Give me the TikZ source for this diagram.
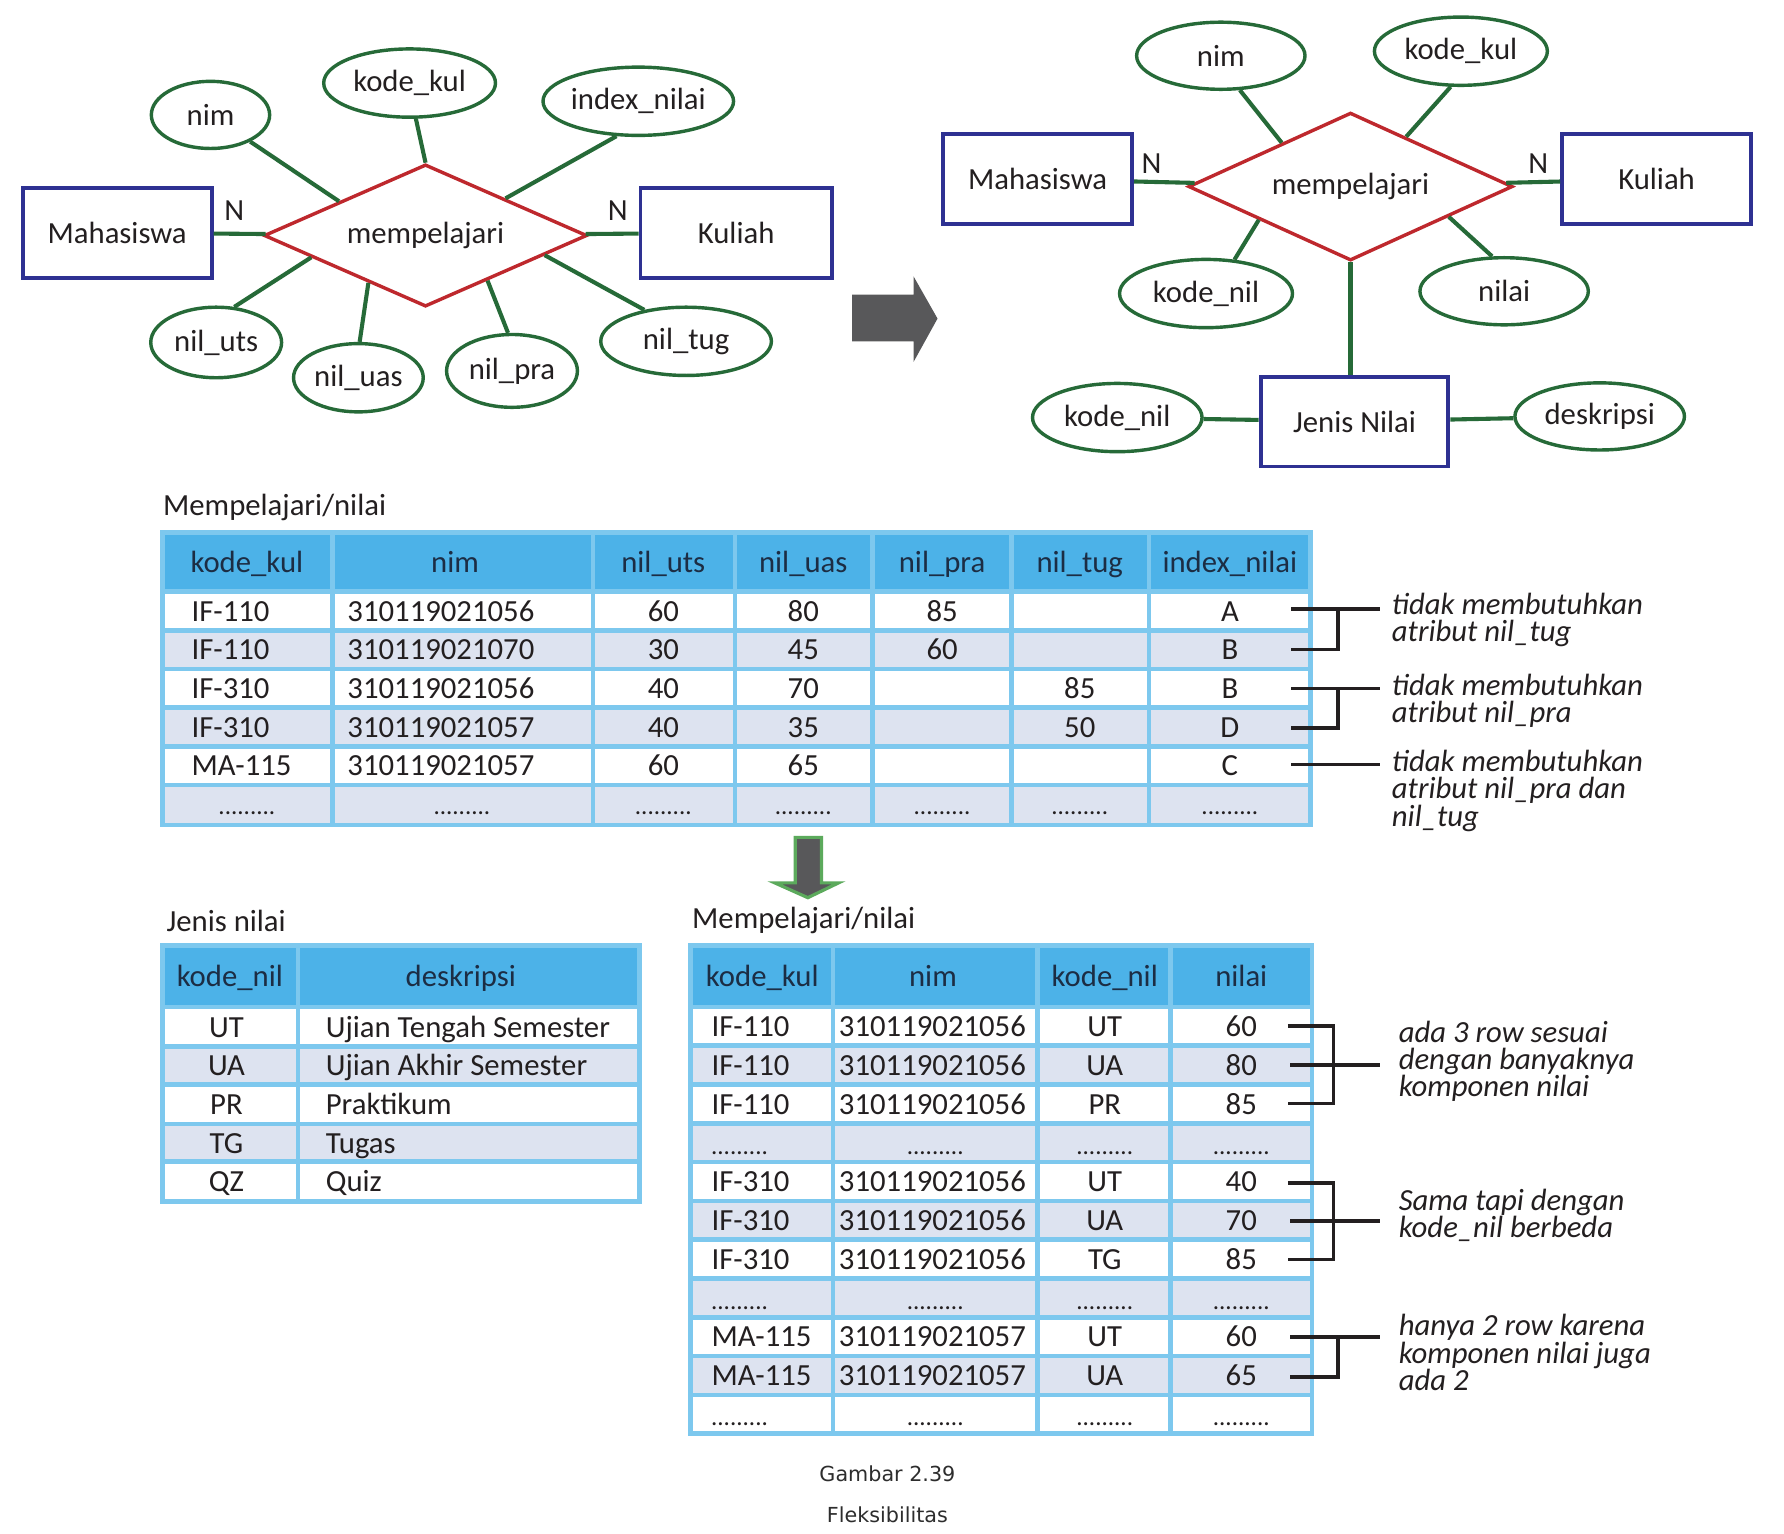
\documentclass[tikz,border=0pt]{standalone}
\usepackage{fontspec}
\setmainfont{Carlito}
\newfontfamily\capfont{DejaVu Sans}
\usetikzlibrary{shapes.geometric,calc}

\definecolor{erblue}{RGB}{46,49,146}
\definecolor{erred}{RGB}{190,40,45}
\definecolor{ergreen}{RGB}{38,106,56}
\definecolor{hdrblue}{RGB}{76,178,232}
\definecolor{gridblue}{RGB}{125,200,238}
\definecolor{rowgrey}{RGB}{221,227,240}
\definecolor{ink}{RGB}{35,31,32}
\definecolor{hdrink}{RGB}{28,45,68}
\definecolor{arrowgrey}{RGB}{88,88,90}
\definecolor{arrowgreen}{RGB}{92,170,92}
\definecolor{capgrey}{RGB}{45,45,45}

\begin{document}
\begin{tikzpicture}[x=0.5pt,y=-0.5pt,
  every node/.style={text=ink},
  erfont/.style={font=\fontsize{13.5}{16}\selectfont},
  ent/.style 2 args={draw=erblue, line width=1.7pt, rectangle, inner sep=0pt,
    minimum width=#1*0.5pt, minimum height=#2*0.5pt, erfont},
  attr/.style 2 args={draw=ergreen, line width=1.5pt, ellipse, inner sep=0pt,
    minimum width=#1*0.5pt, minimum height=#2*0.5pt, erfont},
  rel/.style 2 args={draw=erred, line width=1.5pt, diamond, inner sep=0pt,
    minimum width=#1*0.5pt, minimum height=#2*0.5pt, shape aspect=2.2, erfont},
  link/.style={draw=ergreen, line width=1.8pt},
  card/.style={erfont, inner sep=0pt},
  grid/.style={draw=gridblue, line width=2pt},
  hdr/.style={font=\fontsize{13.5}{16}\selectfont, text=hdrink, inner sep=0pt, anchor=base},
  cell/.style={font=\fontsize{13.5}{16}\selectfont, inner sep=0pt, anchor=base},
  cellL/.style={font=\fontsize{13.5}{16}\selectfont, inner sep=0pt, anchor=base west},
  dots/.style={font=\fontsize{11}{12}\selectfont, inner sep=0pt},
  title/.style={font=\fontsize{13.5}{16}\selectfont, inner sep=0pt, anchor=base west},
  note/.style={font=\fontsize{13.5}{16}\selectfont\itshape, inner sep=0pt, anchor=base west},
  brk/.style={draw=ink, line width=1.6pt},
  capt/.style={font=\capfont\fontsize{9.1}{11}\selectfont, text=capgrey, inner sep=0pt, anchor=base}
]
\useasboundingbox[fill=white] (0,0) rectangle (1568,1348);

% ---------- ER diagram before normalisation ----------
\node[ent={166}{79}] (m1) at (103,204.5) {Mahasiswa};
\node[ent={168}{79}] (k1) at (647,204.5) {Kuliah};
\node[rel={284}{125}] (r1) at (374,207) {mempelajari};
\node[attr={104}{59}] (a-nim) at (185,101) {nim};
\node[attr={151}{60}] (a-kk) at (360,73) {kode\_kul};
\node[attr={160}{60}] (a-ix) at (561,89) {index\_nilai};
\node[attr={115}{62}] (a-uts) at (190,301) {nil\_uts};
\node[attr={114}{60}] (a-uas) at (315,332) {nil\_uas};
\node[attr={115}{64}] (a-pra) at (450,326) {nil\_pra};
\node[attr={150}{60}] (a-tug) at (603,300) {nil\_tug};
\node[card] (n1) at (206,185) {N};
\node[card] (n2) at (543,185) {N};

\draw[link] (m1) -- (r1);
\draw[link] (r1) -- (k1);
\draw[link] (a-nim) -- ($(r1.west)!0.47!(r1.north)$);
\draw[link] (a-kk.-80) -- (r1.north);
\draw[link] (a-ix.238) -- ($(r1.north)!0.49!(r1.east)$);
\draw[link] (a-uts.63) -- ($(r1.west)!0.3!(r1.south)$);
\draw[link] (a-uas.88) -- ($(r1.west)!0.65!(r1.south)$);
\draw[link] (a-pra.96) -- ($(r1.south)!0.38!(r1.east)$);
\draw[link] (a-tug.143) -- ($(r1.south)!0.73!(r1.east)$);

% ---------- transition arrow ----------
\fill[arrowgrey] (749,259) -- (803,259) -- (803,243) -- (824,280) -- (803,318)
  -- (803,300) -- (749,300) -- cycle;

% ---------- ER diagram after normalisation ----------
\node[ent={166}{79}] (m2) at (912,157.5) {Mahasiswa};
\node[ent={166}{79}] (k2) at (1456,157.5) {Kuliah};
\node[rel={285}{130}] (r2) at (1187,164) {mempelajari};
\node[ent={165}{79}] (jn) at (1190.5,370.5) {Jenis Nilai};
\node[attr={148}{59}] (b-nim) at (1073,49) {nim};
\node[attr={152}{60}] (b-kk) at (1284,45) {kode\_kul};
\node[attr={152}{60}] (b-kn) at (1060,258) {kode\_nil};
\node[attr={148}{59}] (b-nl) at (1322,256) {nilai};
\node[attr={149}{60}] (c-kn) at (982,367) {kode\_nil};
\node[attr={149}{59}] (c-ds) at (1406,366) {deskripsi};
\node[card] (n3) at (1012,144) {N};
\node[card] (n4) at (1352,144) {N};

\draw[link] (m2) -- (r2);
\draw[link] (r2) -- (k2);
\draw[link] (b-nim.-61) -- ($(r2.west)!0.58!(r2.north)$);
\draw[link] (b-kk.-106) -- ($(r2.north)!0.34!(r2.east)$);
\draw[link] (b-kn.50) -- ($(r2.west)!0.44!(r2.south)$);
\draw[link] (b-nl.109) -- ($(r2.south)!0.6!(r2.east)$);
\draw[link] (r2.south) -- (r2.south |- jn.north);
\draw[link] (c-kn) -- (jn);
\draw[link] (jn) -- (c-ds);

% ---------- table: Mempelajari/nilai (before) ----------
\node[title] (ttl1) at (143,453) {Mempelajari/nilai};
\fill[hdrblue] (143,468) rectangle (1152,520);
\foreach \t in {554,622,690} \fill[rowgrey] (143,\t) rectangle (1152,\t+35);
\foreach \x in {292,521,646,767,889,1010} \draw[grid] (\x,468) -- (\x,725);
\foreach \y in {520,554,588,622,656,690} \draw[grid] (143,\y) -- (1152,\y);
\draw[grid] (143,468) rectangle (1152,725);
\foreach \x/\h [count=\j] in {217/kode\_kul, 400/nim, 583/nil\_uts, 706/nil\_uas,
    828/nil\_pra, 949/nil\_tug, 1081/index\_nilai}
  \node[hdr] (t1-h-\j) at (\x,503) {\h};
\foreach \a/\b/\c/\d/\e/\f/\g [count=\i] in {
    IF-110/310119021056/60/80/85//A,
    IF-110/310119021070/30/45/60//B,
    IF-310/310119021056/40/70//85/B,
    IF-310/310119021057/40/35//50/D,
    MA-115/310119021057/60/65///C}
{
  \pgfmathsetmacro\yb{546+(\i-1)*34}
  \node[cellL] (t1-\i-1) at (168,\yb) {\a};
  \node[cellL] (t1-\i-2) at (305,\yb) {\b};
  \node[cell]  (t1-\i-3) at (583,\yb) {\c};
  \node[cell]  (t1-\i-4) at (706,\yb) {\d};
  \node[cell]  (t1-\i-5) at (828,\yb) {\e};
  \node[cell]  (t1-\i-6) at (949,\yb) {\f};
  \node[cell]  (t1-\i-7) at (1081,\yb) {\g};
}
\foreach \x [count=\j] in {217,406,583,706,828,949,1081}
  \node[dots] (t1-6-\j) at (\x,715) {.........};

% notes beside the first table
\draw[brk] (1135,535) -- (1213,535) (1176,535) -- (1176,571) -- (1135,571);
\draw[brk] (1135,605) -- (1213,605) (1176,605) -- (1176,640) -- (1135,640);
\draw[brk] (1135,672) -- (1213,672);
\node[note] (na1) at (1223,540) {tidak membutuhkan};
\node[note] (na2) at (1223,564) {atribut nil\_tug};
\node[note] (nb1) at (1223,611) {tidak membutuhkan};
\node[note] (nb2) at (1223,635) {atribut nil\_pra};
\node[note] (nc1) at (1223,678) {tidak membutuhkan};
\node[note] (nc2) at (1223,702) {atribut nil\_pra dan};
\node[note] (nc3) at (1223,726) {nil\_tug};

% ---------- downward arrow ----------
\draw[draw=arrowgreen, line width=1.4pt, fill=arrowgrey, line join=miter]
  (699,736) -- (722,736) -- (722,776) -- (737,776) -- (710,789) -- (681,776)
  -- (699,776) -- cycle;

% ---------- table: Jenis nilai ----------
\node[title] (ttl2) at (146,819) {Jenis nilai};
\fill[hdrblue] (143,831) rectangle (562,885);
\fill[rowgrey] (143,920) rectangle (562,953);
\fill[rowgrey] (143,988) rectangle (562,1021);
\draw[grid] (262,831) -- (262,1056);
\foreach \y in {885,920,953,988,1021} \draw[grid] (143,\y) -- (562,\y);
\draw[grid] (143,831) rectangle (562,1056);
\node[hdr] (t2-h-1) at (202,867) {kode\_nil};
\node[hdr] (t2-h-2) at (405,867) {deskripsi};
\foreach \a/\b [count=\i] in {UT/Ujian Tengah Semester, UA/Ujian Akhir Semester,
    PR/Praktikum, TG/Tugas, QZ/Quiz}
{
  \pgfmathsetmacro\yb{911.5+(\i-1)*34}
  \node[cell]  (t2-\i-1) at (199,\yb) {\a};
  \node[cellL] (t2-\i-2) at (286,\yb) {\b};
}

% ---------- table: Mempelajari/nilai (after) ----------
\node[title] (ttl3) at (608,816) {Mempelajari/nilai};
\fill[hdrblue] (607,831) rectangle (1153,885);
\foreach \k in {1,3,5,7,9}
  \fill[rowgrey] (607,885+\k*34.1) rectangle (1153,885+\k*34.1+34.1);
\foreach \x in {732,912,1029} \draw[grid] (\x,831) -- (\x,1260);
\foreach \k in {0,...,10} \draw[grid] (607,885+\k*34.1) -- (1153,885+\k*34.1);
\draw[grid] (607,831) rectangle (1153,1260);
\foreach \x/\h [count=\j] in {670/kode\_kul, 820/nim, 971/kode\_nil, 1091/nilai}
  \node[hdr] (t3-h-\j) at (\x,867) {\h};
\foreach \r/\a/\b/\c/\d in {
    1/IF-110/310119021056/UT/60, 2/IF-110/310119021056/UA/80,
    3/IF-110/310119021056/PR/85, 5/IF-310/310119021056/UT/40,
    6/IF-310/310119021056/UA/70, 7/IF-310/310119021056/TG/85,
    9/MA-115/310119021057/UT/60, 10/MA-115/310119021057/UA/65}
{
  \pgfmathsetmacro\yb{885+(\r-0.5)*34.1+9}
  \node[cellL] (t3-\r-1) at (625,\yb) {\a};
  \node[cellL] (t3-\r-2) at (737,\yb) {\b};
  \node[cell]  (t3-\r-3) at (971,\yb) {\c};
  \node[cell]  (t3-\r-4) at (1091,\yb) {\d};
}
\foreach \r in {4,8,11}
  \foreach \x [count=\j] in {650,822,971,1091}
    \node[dots] (t3-\r-\j) at (\x,{885+(\r-0.5)*34.1+9}) {.........};

% notes beside the last table
\draw[brk] (1132,902) -- (1172,902) -- (1172,970) -- (1132,970) (1134,936) -- (1213,936);
\draw[brk] (1132,1040) -- (1172,1040) -- (1172,1107) -- (1132,1107) (1134,1073) -- (1213,1073);
\draw[brk] (1134,1175) -- (1213,1175) (1176,1175) -- (1176,1210) -- (1134,1210);
\node[note] (nd1) at (1229,916) {ada 3 row sesuai};
\node[note] (nd2) at (1229,940) {dengan banyaknya};
\node[note] (nd3) at (1229,964) {komponen nilai};
\node[note] (ne1) at (1229,1064) {Sama tapi dengan};
\node[note] (ne2) at (1229,1088) {kode\_nil berbeda};
\node[note] (nf1) at (1229,1174) {hanya 2 row karena};
\node[note] (nf2) at (1229,1198) {komponen nilai juga};
\node[note] (nf3) at (1229,1222) {ada 2};

% ---------- caption ----------
\node[capt] (cap1) at (780,1302) {Gambar 2.39};
\node[capt] (cap2) at (780,1338) {Fleksibilitas};
\end{tikzpicture}
\end{document}
